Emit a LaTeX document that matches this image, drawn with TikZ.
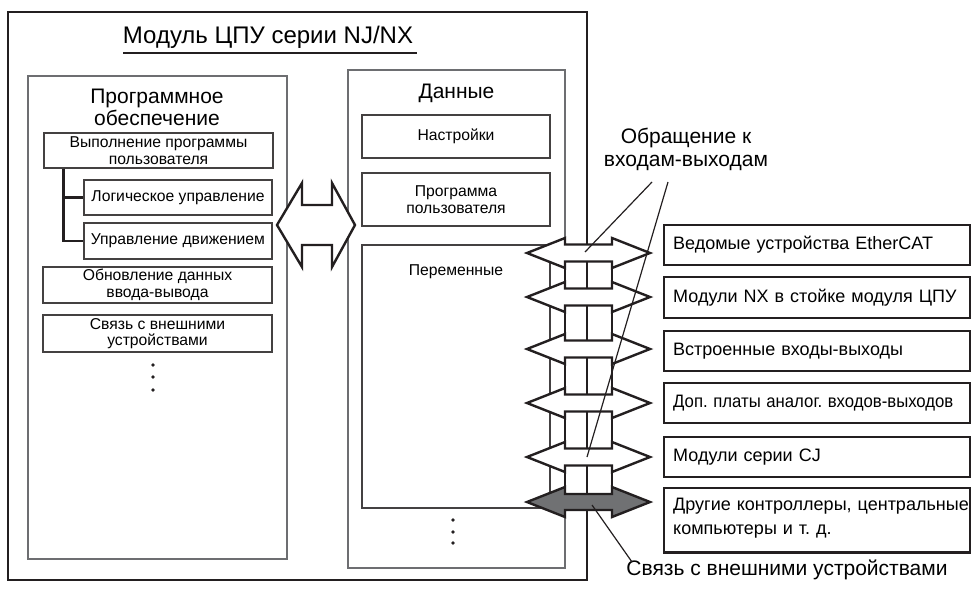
\documentclass[tikz,border=0pt]{standalone}
\usepackage{fontspec}
\setmainfont{Liberation Sans}
\definecolor{ink}{HTML}{231F20}
\definecolor{frame}{HTML}{6D6E71}
\definecolor{shade}{HTML}{707173}
\frenchspacing
\begin{document}
\begin{tikzpicture}[x=1pt,y=-1pt,
    thin box/.style={draw=frame,line width=1.2pt},
    sub box/.style={draw=ink!85,line width=1.3pt,align=center,inner sep=0pt,
        font=\fontsize{15.7}{16.5}\selectfont},
    dev box/.style={draw=ink,line width=2.4pt,anchor=west,inner xsep=9pt,
        text width=288pt,align=left,minimum height=40pt,
        font=\fontsize{18}{24}\selectfont},
    io arrow/.style={draw=ink,line width=2.4pt,fill=white,line join=miter},
    callout/.style={draw=ink,line width=1.2pt}]
    \useasboundingbox (0,0) rectangle (971,590);
    % CPU unit frame
    \draw[ink,line width=2.6pt] (8,12) rectangle (587,580);
    \node[font=\fontsize{24}{26}\selectfont] (cpu) at (268,37) {Модуль ЦПУ серии NJ/NX};
    \draw[ink,line width=1.2pt] (123,53) -- (417,53);
    % software
    \draw[thin box] (28,76) rectangle (287,559);
    \node[font=\fontsize{21}{22}\selectfont,align=center] (soft) at (157,107) {Программное\\обеспечение};
    \node[sub box,minimum width=229pt,minimum height=35pt] (exec) at (158.5,150.5) {Выполнение программы\\пользователя};
    \node[sub box,minimum width=188pt,minimum height=35pt] (logic) at (178,197.5) {Логическое управление};
    \node[sub box,minimum width=188pt,minimum height=36pt] (motion) at (178,241) {Управление движением};
    \node[sub box,minimum width=229pt,minimum height=36pt] (refresh) at (157.5,285) {Обновление данных\\ввода-вывода};
    \node[sub box,minimum width=229pt,minimum height=37pt] (comm) at (157.5,333.5) {Связь с внешними\\устройствами};
    \draw[ink,line width=2.4pt] (exec.south west) ++(20,0) |- (logic.west);
    \draw[ink,line width=2.4pt] (exec.south west) ++(20,0) |- (motion.west);
    \foreach \y in {365,377,390} \fill[ink] (153,\y) circle (1.9pt);
    % data
    \draw[thin box] (348,70) rectangle (565,568);
    \node[font=\fontsize{21}{22}\selectfont] (data) at (456.5,93) {Данные};
    \node[sub box,minimum width=188pt,minimum height=43pt] (setup) at (456,136.5) {Настройки};
    \node[sub box,minimum width=188pt,minimum height=53pt] (prog) at (456,199.5) {Программа\\пользователя};
    \draw[ink!85,line width=1.3pt] (362,245) rectangle (550,508);
    \node[font=\fontsize{15.7}{16.5}\selectfont] (vars) at (456,272) {Переменные};
    \foreach \y in {520,532,543} \fill[ink] (453,\y) circle (1.9pt);
    % software <-> data
    \draw[io arrow] (277,225) -- (302,183) -- (302,205) -- (332,205) -- (332,183)
        -- (355,225) -- (332,267) -- (332,245) -- (302,245) -- (302,267) -- cycle;
    % I/O bus
    \draw[ink,line width=2.4pt] (565,245) rectangle (612,510);
    \foreach \y in {253,297,349,403,457}
        \draw[io arrow] (527,\y) -- ++(38,-15) -- ++(0,6.5) -- ++(47,0) -- ++(0,-6.5)
            -- ++(38,15) -- ++(-38,15) -- ++(0,-6.5) -- ++(-47,0) -- ++(0,6.5) -- cycle;
    \draw[io arrow,fill=shade] (527,502) -- ++(38,-15) -- ++(0,7) -- ++(47,0) -- ++(0,-7)
        -- ++(38,15) -- ++(-38,15) -- ++(0,-7) -- ++(-47,0) -- ++(0,7) -- cycle;
    % devices
    \node[dev box] (ecat) at (663,245) {Ведомые устройства EtherCAT};
    \node[dev box,minimum height=41pt] (nxunit) at (663,297.5) {Модули NX в стойке модуля ЦПУ};
    \node[dev box] (builtin) at (663,351) {Встроенные входы-выходы};
    \node[dev box] (optboard) at (663,403) {\scalebox{0.93}[1]{Доп. платы аналог. входов-выходов}};
    \node[dev box] (cjunit) at (663,457) {Модули серии CJ};
    \node[dev box,anchor=north west,minimum height=0pt,inner ysep=9.5pt,text depth=33pt] (hosts) at (663,487)
        {\mbox{Другие контроллеры, центральные}\\компьютеры и т. д.};
    % labels
    \node[font=\fontsize{21}{23}\selectfont,align=center] (iolbl) at (686,149) {Обращение к\\входам-выходам};
    \node[font=\fontsize{21}{22}\selectfont] (extlbl) at (787,570) {Связь с внешними устройствами};
    \coordinate (ioS1) at (652,182);
    \coordinate (ioS2) at (668,182);
    \coordinate (ioA) at (585,252);
    \coordinate (ioB) at (587,457);
    \coordinate (extS) at (632,562);
    \coordinate (extA) at (592,505);
    \draw[callout] (ioS1) -- (ioA);
    \draw[callout] (ioS2) -- (ioB);
    \draw[callout] (extS) -- (extA);
\end{tikzpicture}
\end{document}
